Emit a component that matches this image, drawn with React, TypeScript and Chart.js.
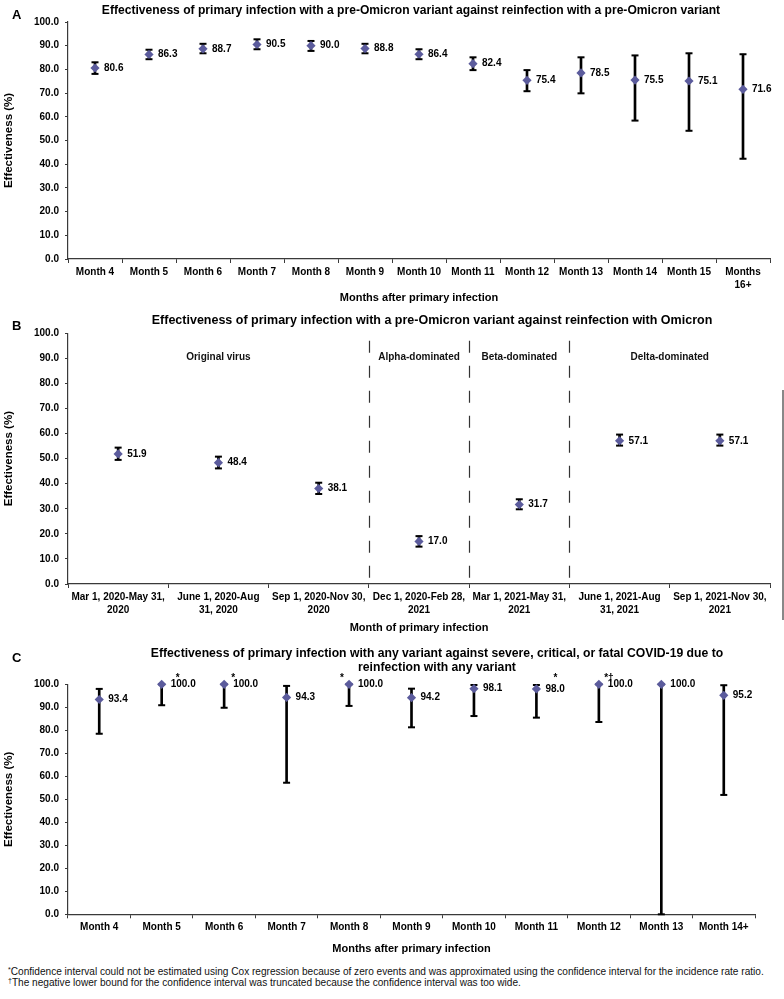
import React, { useEffect, useRef } from "react";
import { Chart, registerables } from "chart.js";
Chart.register(...registerables);

// ---------- DATA ----------
const monthsA: (string | string[])[] = ["Month 4", "Month 5", "Month 6", "Month 7", "Month 8", "Month 9", "Month 10", "Month 11", "Month 12", "Month 13", "Month 14", "Month 15", ["Months", "16+"]];
const valuesA = [80.6, 86.3, 88.7, 90.5, 90.0, 88.8, 86.4, 82.4, 75.4, 78.5, 75.5, 75.1, 71.6];
const lowerA = [78.1, 84.3, 86.8, 88.5, 87.8, 86.8, 84.3, 79.7, 70.8, 69.9, 58.4, 54.1, 42.3];
const upperA = [83.0, 88.3, 90.8, 92.7, 92.0, 90.8, 88.5, 85.1, 79.7, 85.1, 85.9, 86.8, 86.4];

const periodsB: string[][] = [
  ["Mar 1, 2020-May 31,", "2020"],
  ["June 1, 2020-Aug", "31, 2020"],
  ["Sep 1, 2020-Nov 30,", "2020"],
  ["Dec 1, 2020-Feb 28,", "2021"],
  ["Mar 1, 2021-May 31,", "2021"],
  ["June 1, 2021-Aug", "31, 2021"],
  ["Sep 1, 2021-Nov 30,", "2021"],
];
const valuesB = [51.9, 48.4, 38.1, 17.0, 31.7, 57.1, 57.1];
const lowerB = [49.5, 46.1, 35.9, 14.9, 29.8, 55.2, 55.2];
const upperB = [54.4, 50.8, 40.4, 19.1, 33.8, 59.6, 59.6];
const erasB = ["Original virus", "Alpha-dominated", "Beta-dominated", "Delta-dominated"];
const eraStartB = [0, 3, 4, 5];
const eraEndB = [2, 3, 4, 6];

const monthsC = ["Month 4", "Month 5", "Month 6", "Month 7", "Month 8", "Month 9", "Month 10", "Month 11", "Month 12", "Month 13", "Month 14+"];
const valuesC = [93.4, 100.0, 100.0, 94.3, 100.0, 94.2, 98.1, 98.0, 100.0, 100.0, 95.2];
const lowerC = [78.5, 90.9, 89.8, 57.2, 90.6, 81.3, 86.2, 85.5, 83.6, 0.0, 51.9];
const upperC = [98.0, 100.0, 100.0, 99.3, 100.0, 98.1, 99.7, 99.7, 100.0, 100.0, 99.6];
const notesC = ["", "*", "*", "", "*", "", "", "*", "*\u2020", "", ""];

const yTickValues = [0, 10, 20, 30, 40, 50, 60, 70, 80, 90, 100];

// ---------- STYLE ----------
const FONT = "'Liberation Sans', Arial, Helvetica, sans-serif";
const MARKER = "#5b5b9c";
const AXIS = "#3a3a3a";
const noteDxC = [0, 16, 9, 0, -7, 0, 0, 19, 10, 0, 0];

type PanelSpec = {
  labels: (string | string[])[];
  values: number[];
  lower: number[];
  upper: number[];
  height: number;
  areaTop: number;
  areaBottom: number;
  right: number;
  xTitle: string;
  xTitlePad: number;
  extraPlugins?: any[];
  notes?: string[];
};

function labelPlugin(spec: PanelSpec) {
  return {
    id: "valueLabels",
    afterDatasetsDraw(chart: any) {
      const meta = chart.getDatasetMeta(3);
      const ctx = chart.ctx;
      ctx.save();
      ctx.font = `bold 10px ${FONT}`;
      ctx.fillStyle = "#000";
      ctx.textAlign = "left";
      ctx.textBaseline = "middle";
      meta.data.forEach((el: any, i: number) => {
        ctx.fillText(spec.values[i].toFixed(1), el.x + 9, el.y);
      });
      if (spec.notes) {
        const yTop = chart.scales.y.getPixelForValue(100);
        ctx.textAlign = "center";
        spec.notes.forEach((n, i) => {
          if (!n) return;
          const el = meta.data[i];
          ctx.fillText(n, el.x + noteDxC[i], yTop - 6);
        });
      }
      ctx.restore();
    },
  };
}

const eraPlugin = {
  id: "eras",
  afterDatasetsDraw(chart: any) {
    const x = chart.scales.x;
    const y = chart.scales.y;
    const ctx = chart.ctx;
    ctx.save();
    ctx.strokeStyle = "#333";
    ctx.lineWidth = 1.2;
    ctx.setLineDash([12, 13]);
    for (let k = 0; k < erasB.length - 1; k++) {
      const idx = eraEndB[k];
      const bx = Math.round((x.getPixelForValue(idx) + x.getPixelForValue(idx + 1)) / 2) + 0.5;
      ctx.beginPath();
      ctx.moveTo(bx, y.getPixelForValue(97));
      ctx.lineTo(bx, y.bottom);
      ctx.stroke();
    }
    ctx.setLineDash([]);
    ctx.font = `bold 10px ${FONT}`;
    ctx.fillStyle = "#111";
    ctx.textAlign = "center";
    ctx.textBaseline = "middle";
    erasB.forEach((e, k) => {
      const cx = (x.getPixelForValue(eraStartB[k]) + x.getPixelForValue(eraEndB[k])) / 2;
      ctx.fillText(e, cx, y.getPixelForValue(90.3));
    });
    ctx.restore();
  },
};

function makeConfig(spec: PanelSpec): any {
  const plotH = spec.height - spec.areaBottom;
  const capDs = (data: number[]) => ({
    type: "line",
    data,
    showLine: false,
    pointStyle: "line",
    pointRadius: 3.5,
    pointBorderWidth: 2,
    pointBorderColor: "#000",
    pointBackgroundColor: "#000",
    order: 2,
    clip: false,
  });
  return {
    type: "line",
    data: {
      labels: spec.labels,
      datasets: [
        {
          type: "bar",
          data: spec.lower.map((l, i) => [l, spec.upper[i]]),
          backgroundColor: "#000",
          borderWidth: 0,
          barThickness: 2,
          order: 3,
          clip: false,
        },
        capDs(spec.lower),
        capDs(spec.upper),
        {
          type: "line",
          data: spec.values,
          showLine: false,
          pointStyle: "rectRot",
          pointRadius: 4.6,
          pointBorderWidth: 0,
          pointBackgroundColor: MARKER,
          pointBorderColor: MARKER,
          order: 0,
          clip: false,
        },
      ],
    },
    options: {
      animation: false,
      responsive: false,
      maintainAspectRatio: false,
      events: [],
      layout: { padding: { top: spec.areaTop, right: spec.right, bottom: 0, left: 0 } },
      plugins: {
        legend: { display: false },
        tooltip: { enabled: false },
        title: { display: false },
      },
      scales: {
        x: {
          type: "category",
          offset: true,
          afterFit: (s: any) => {
            s.height = plotH;
          },
          grid: {
            offset: true,
            drawOnChartArea: false,
            drawTicks: true,
            tickLength: 4,
            color: AXIS,
            lineWidth: 1,
          },
          border: { display: true, color: AXIS, width: 1.2 },
          ticks: {
            autoSkip: false,
            maxRotation: 0,
            minRotation: 0,
            padding: 3,
            color: "#000",
            font: { family: FONT, size: 10, weight: "bold", lineHeight: 1.25 },
          },
          title: {
            display: true,
            text: spec.xTitle,
            color: "#000",
            font: { family: FONT, size: 11, weight: "bold", lineHeight: 1.2 },
            padding: { top: 0, bottom: spec.xTitlePad },
          },
        },
        y: {
          min: 0,
          max: 100,
          afterFit: (s: any) => {
            s.width = 68;
          },
          afterBuildTicks: (s: any) => {
            s.ticks = yTickValues.map((v) => ({ value: v }));
          },
          grid: {
            drawOnChartArea: false,
            drawTicks: true,
            tickLength: 3,
            color: AXIS,
            lineWidth: 1,
          },
          border: { display: true, color: AXIS, width: 1.2 },
          ticks: {
            padding: 6,
            color: "#000",
            font: { family: FONT, size: 10, weight: "bold" },
            callback: (v: any) => Number(v).toFixed(1),
          },
          title: {
            display: true,
            text: "Effectiveness (%)",
            color: "#000",
            font: { family: FONT, size: 11.5, weight: "bold", lineHeight: 1.2 },
            padding: { top: 2, bottom: 0 },
          },
        },
      },
    },
    plugins: [labelPlugin(spec), ...(spec.extraPlugins || [])],
  };
}

function Panel({ spec, top }: { spec: PanelSpec; top: number }) {
  const ref = useRef<HTMLCanvasElement | null>(null);
  useEffect(() => {
    if (!ref.current) return;
    const chart = new Chart(ref.current, makeConfig(spec));
    return () => chart.destroy();
  }, []);
  return (
    <canvas
      ref={ref}
      width={784}
      height={spec.height}
      style={{ position: "absolute", left: 0, top, width: 784, height: spec.height }}
    />
  );
}

const specA: PanelSpec = {
  labels: monthsA, values: valuesA, lower: lowerA, upper: upperA,
  height: 306, areaTop: 22, areaBottom: 259, right: 14,
  xTitle: "Months after primary infection", xTitlePad: 1.4,
};
const specB: PanelSpec = {
  labels: periodsB, values: valuesB, lower: lowerB, upper: upperB,
  height: 330, areaTop: 27.3, areaBottom: 278, right: 14,
  xTitle: "Month of primary infection", xTitlePad: 1.4,
  extraPlugins: [eraPlugin],
};
const specC: PanelSpec = {
  labels: monthsC, values: valuesC, lower: lowerC, upper: upperC,
  height: 322, areaTop: 48.3, areaBottom: 278.3, right: 29,
  xTitle: "Months after primary infection", xTitlePad: 2.1,
  notes: notesC,
};

function Text({ cx, cy, size, children, lh }: any) {
  return (
    <div
      style={{
        position: "absolute",
        left: cx,
        top: cy - (lh || size * 1.2) / 2,
        transform: "translateX(-50%)",
        whiteSpace: "nowrap",
        fontFamily: FONT,
        fontWeight: "bold",
        fontSize: size,
        lineHeight: `${lh || size * 1.2}px`,
        color: "#000",
        textAlign: "center",
      }}
    >
      {children}
    </div>
  );
}

function Letter({ x, cy, children }: any) {
  return (
    <div
      style={{
        position: "absolute",
        left: x,
        top: cy - 8,
        fontFamily: FONT,
        fontWeight: "bold",
        fontSize: 13,
        lineHeight: "16px",
        color: "#000",
      }}
    >
      {children}
    </div>
  );
}

export default function App() {
  return (
    <div
      style={{
        position: "absolute",
        left: 0,
        top: 0,
        width: 784,
        height: 999,
        overflow: "hidden",
        background: "#fff",
      }}
    >
      <Panel spec={specA} top={0} />
      <Panel spec={specB} top={306} />
      <Panel spec={specC} top={636} />
      <Letter x={12} cy={15}>A</Letter>
      <Letter x={12} cy={326}>B</Letter>
      <Letter x={12} cy={658}>C</Letter>
      <Text cx={411} cy={10} size={12.1}>
        Effectiveness of primary infection with a pre-Omicron variant against reinfection with a pre-Omicron variant
      </Text>
      <Text cx={432} cy={320} size={12.5}>
        Effectiveness of primary infection with a pre-Omicron variant against reinfection with Omicron
      </Text>
      <Text cx={437} cy={661} size={12.2} lh={27.4}>
        <div style={{ lineHeight: "13.7px" }}>
          Effectiveness of primary infection with any variant against severe, critical, or fatal COVID-19 due to
          <br />
          reinfection with any variant
        </div>
      </Text>
      <div
        style={{
          position: "absolute",
          left: 8,
          top: 966,
          fontFamily: FONT,
          fontSize: 10.1,
          lineHeight: "11px",
          color: "#111",
          whiteSpace: "nowrap",
        }}
      >
        <div>
          <sup style={{ fontSize: 7, verticalAlign: "top", lineHeight: "8px" }}>*</sup>Confidence interval could not be
          estimated using Cox regression because of zero events and was approximated using the confidence interval for
          the incidence rate ratio.
        </div>
        <div>
          <sup style={{ fontSize: 7, verticalAlign: "top", lineHeight: "8px" }}>{"\u2020"}</sup>The negative lower bound
          for the confidence interval was truncated because the confidence interval was too wide.
        </div>
      </div>
      <div style={{ position: "absolute", left: 782, top: 390, width: 1.5, height: 230, background: "#888" }} />
    </div>
  );
}
